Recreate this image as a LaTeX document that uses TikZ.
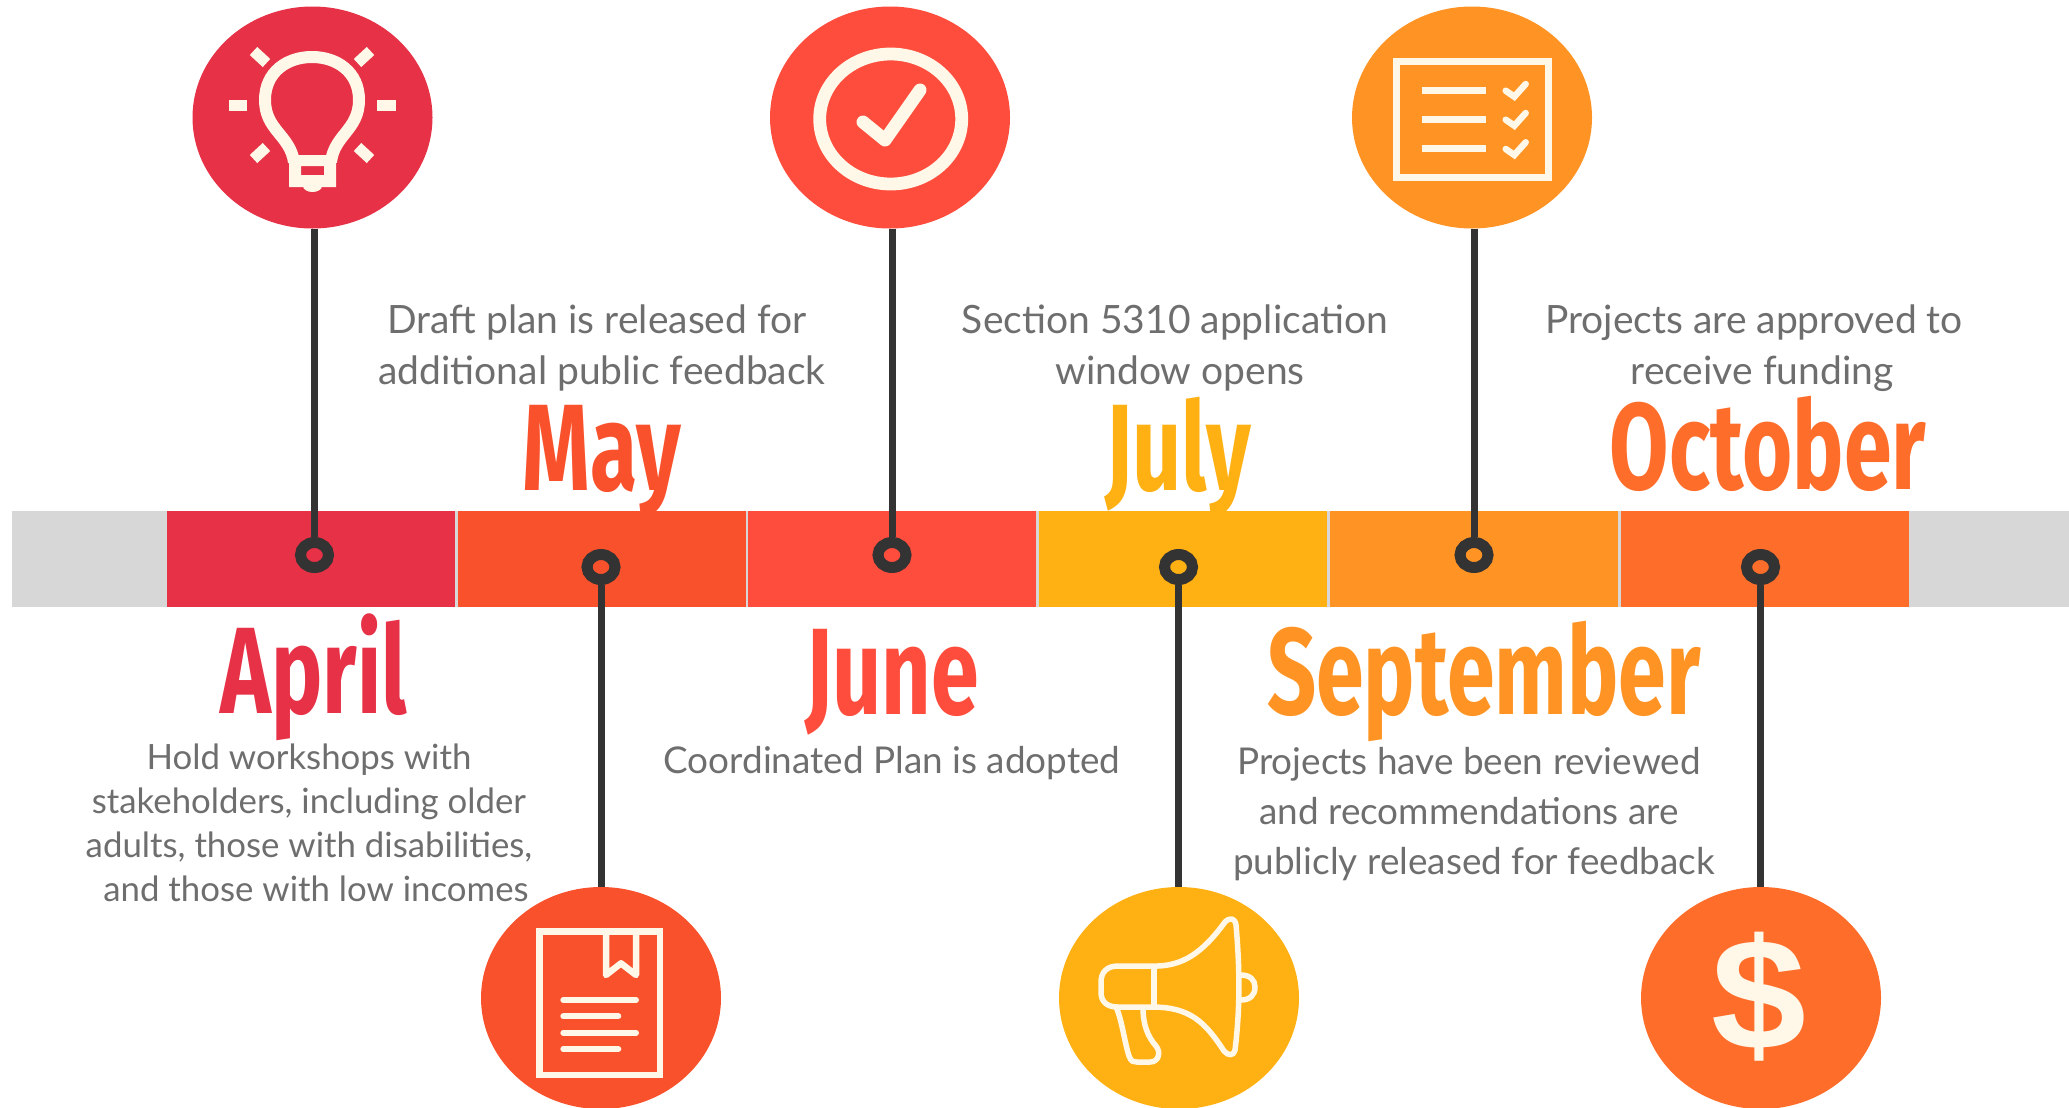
\documentclass[tikz,border=0pt]{standalone}
\usepackage{fontspec}
\setmainfont{Lato}
\newfontfamily\headfont[FakeStretch=0.70]{Fira Sans}
\newfontfamily\moneyfont[FakeStretch=1.08]{Liberation Sans}
\usepackage{xcolor}
\usetikzlibrary{positioning,shapes.geometric}
\definecolor{aprilred}{HTML}{E63147}
\definecolor{mayred}{HTML}{F9512B}
\definecolor{junered}{HTML}{FF4D3D}
\definecolor{julyyellow}{HTML}{FFB013}
\definecolor{septorange}{HTML}{FF9425}
\definecolor{octorange}{HTML}{FF6D2B}
\definecolor{bargrey}{HTML}{D7D7D7}
\definecolor{cream}{HTML}{FFF8E8}
\definecolor{ink}{HTML}{333333}
\definecolor{copygrey}{HTML}{6E6E6E}
\begin{document}
\begin{tikzpicture}[
    x=0.1mm,
    y=-0.1mm,
    node distance=0.27mm,
    band/.style={
        rectangle,
        minimum width=28.8mm,
        minimum height=9.6mm,
        inner sep=0pt,
        outer sep=0pt,
        fill=#1},
    badge/.style={
        % The shape:
        ellipse,
        minimum width=24mm,
        minimum height=22.2mm,
        inner sep=0pt,
        outer sep=0pt,
        % The fill
        fill=#1},
    pin/.style={
        ellipse,
        minimum width=2.8mm,
        minimum height=2.5mm,
        inner sep=0pt,
        line width=1.1mm,
        draw=ink,
        fill=#1},
    stem/.style={ink,line width=0.7mm},
    month/.style={
        anchor=base,
        inner sep=0pt,
        text=#1,
        font=\headfont\bfseries\fontsize{35}{35}\selectfont},
    blurb/.style 2 args={
        align=center,
        inner sep=0pt,
        text=copygrey,
        font=\fontsize{#1}{#2}\selectfont},
    iconline/.style={cream,line width=0.65mm,line join=miter},
    iconbar/.style={cream,line width=0.6mm,line cap=round}
  ]
  \useasboundingbox (0,0) rectangle (2069,1107);
  % the bar
  \node (greybar) [band=bargrey,minimum width=205.7mm,anchor=west] at (12,559) {};
  \node (aprilband) [band=aprilred] at (311,559) {};
  \node (mayband) [band=mayred,right=of aprilband] {};
  \node (juneband) [band=junered,right=of mayband] {};
  \node (julyband) [band=julyyellow,right=of juneband] {};
  \node (septband) [band=septorange,right=of julyband] {};
  \node (octband) [band=octorange,right=of septband] {};
  % the badges
  \node (aprilbadge) [badge=aprilred] at (312.5,117.5) {};
  \node (maybadge) [badge=mayred] at (601,998) {};
  \node (junebadge) [badge=junered] at (890,117.5) {};
  \node (julybadge) [badge=julyyellow] at (1179,998) {};
  \node (septbadge) [badge=septorange] at (1472,117.5) {};
  \node (octbadge) [badge=octorange] at (1761,998) {};
  % the pins
  \node (aprilpin) [pin=aprilred] at (314.5,555) {};
  \node (maypin) [pin=mayred] at (601,567) {};
  \node (junepin) [pin=junered] at (892,555) {};
  \node (julypin) [pin=julyyellow] at (1178.5,567) {};
  \node (septpin) [pin=septorange] at (1474,555) {};
  \node (octpin) [pin=octorange] at (1760.5,567) {};
  \draw [stem] (aprilbadge.south -| aprilpin.north) -- (aprilpin.north);
  \draw [stem] (maypin.south) -- (maypin.south |- maybadge.north);
  \draw [stem] (junebadge.south -| junepin.north) -- (junepin.north);
  \draw [stem] (julypin.south) -- (julypin.south |- julybadge.north);
  \draw [stem] (septbadge.south -| septpin.north) -- (septpin.north);
  \draw [stem] (octpin.south) -- (octpin.south |- octbadge.north);
  % the months
  \node (aprilname) [month=aprilred] at (314,713) {April};
  \node (mayname) [month=mayred] at (602,490) {May};
  \node (junename) [month=junered] at (892,714) {June};
  \node (julyname) [month=julyyellow] at (1178,490) {July};
  \node (septname) [month=septorange] at (1484,714) {September};
  \node (octname) [month=octorange] at (1768,489) {October};
  % the texts
  \node (aprilblurb) [blurb={9.9}{12.5}] at (309,823) {Hold workshops with\\stakeholders, including older\\adults, those with disabilities,\\\hspace*{1.4mm}and those with low incomes};
  \node (mayblurb) [blurb={11.1}{14.6}] at (602,348) {\hspace*{-1.0mm}Draft plan is released for\\additional public feedback};
  \node (juneblurb) [blurb={10.5}{14}] at (892,763) {Coordinated Plan is adopted};
  \node (julyblurb) [blurb={11.1}{14.6}] at (1175,348) {Section 5310 application\\\hspace*{1.0mm}window opens};
  \node (septblurb) [blurb={10.5}{14.2}] at (1474,814) {\hspace*{-1.0mm}Projects have been reviewed\\\hspace*{-1.0mm}and recommendations are\\publicly released for feedback};
  \node (octblurb) [blurb={11.1}{14.6}] at (1759,348) {\hspace*{-1.0mm}Projects are approved to\\\hspace*{0.6mm}receive funding};
  % bulb
  \draw [cream,line width=1.2mm] (294,162) .. controls (290,135) and (265,130) .. (265,100)
    .. controls (265,72) and (287,57) .. (312,57)
    .. controls (337,57) and (359,72) .. (359,100)
    .. controls (359,130) and (334,135) .. (331,162);
  \fill [cream,even odd rule] (289,155) rectangle (336,187) (301,166) rectangle (324,175);
  \fill [cream] (312.5,186) ellipse (9.5 and 6);
  \draw [cream,line width=1.1mm] (229,105.5) -- (247,105.5);
  \draw [cream,line width=1.1mm] (377,105.5) -- (396,105.5);
  \draw [cream,line width=1.1mm] (253.5,51) -- (266.5,63);
  \draw [cream,line width=1.1mm] (370.5,51) -- (357.5,63);
  \draw [cream,line width=1.1mm] (253.5,159) -- (266.5,147);
  \draw [cream,line width=1.1mm] (370.5,159) -- (357.5,147);
  % tick in a ring
  \draw [cream,line width=1.28mm] (890.7,119) ellipse (71 and 65);
  \draw [cream,line width=1.3mm,line cap=round,line join=round] (863,122) -- (885,140) -- (920,90);
  % checklist
  \draw [iconline] (1396.7,61.7) rectangle (1548.3,177.7);
  \draw [iconline] (1421.7,90.3) -- (1485.7,90.3);
  \draw [iconline] (1421.7,119.3) -- (1485.7,119.3);
  \draw [iconline] (1421.7,148.7) -- (1485.7,148.7);
  \draw [iconline,line cap=round] (1505.7,90.7) -- (1514.3,96.7) -- (1525.7,84);
  \draw [iconline,line cap=round] (1505.7,119.7) -- (1514.3,125.7) -- (1525.7,113);
  \draw [iconline,line cap=round] (1505.7,149) -- (1514.3,155) -- (1525.7,142.3);
  % document
  \draw [iconline] (539.3,931.7) rectangle (660,1075);
  \draw [iconline,line join=round] (606,931.7) -- (606,975) -- (621,963.3) -- (636,975) -- (636,931.7);
  \draw [iconbar] (563.3,1000) -- (636,1000);
  \draw [iconbar] (563.3,1016.3) -- (618.3,1016.3);
  \draw [iconbar] (563.3,1032.7) -- (636,1032.7);
  \draw [iconbar] (563.3,1049) -- (618.3,1049);
  % megaphone
  \draw [cream,line width=0.55mm,line join=round] (1152,966) .. controls (1183,967) and (1203,952) .. (1225,922)
    .. controls (1230,917) and (1235,918) .. (1236,925)
    .. controls (1240,970) and (1240,1010) .. (1235,1050)
    .. controls (1234,1056) and (1228,1056) .. (1224,1051)
    .. controls (1205,1022) and (1190,1007) .. (1152,1007)
    -- (1118,1007) .. controls (1106,1007) and (1101,1001) .. (1101,992)
    -- (1101,982) .. controls (1101,973) and (1106,966) .. (1118,966) -- cycle;
  \draw [cream,line width=0.55mm] (1154,966) -- (1154,1007);
  \draw [cream,line width=0.55mm] (1116,1007) .. controls (1122,1020) and (1124,1040) .. (1129,1056)
    .. controls (1131,1062) and (1134,1062) .. (1137,1062) -- (1150,1062)
    .. controls (1159,1062) and (1161,1052) .. (1156,1046)
    .. controls (1148,1037) and (1143,1025) .. (1143,1008);
  \draw [cream,line width=0.55mm] (1241,975) .. controls (1250,975) and (1255,980) .. (1255,987)
    .. controls (1255,995) and (1250,1000) .. (1241,1000);
  % dollar
  \node (dollarsign) [inner sep=0pt,text=cream,font=\moneyfont\bfseries\fontsize{45}{45}\selectfont] at (1759,997) {\$};
\end{tikzpicture}
\end{document}
